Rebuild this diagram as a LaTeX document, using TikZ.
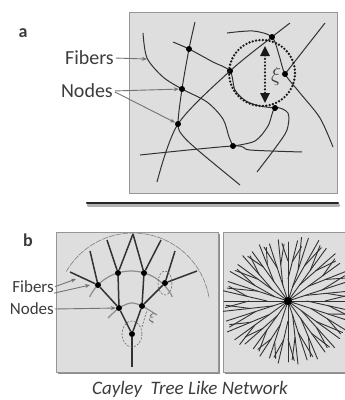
\documentclass[tikz,border=0pt]{standalone}
\usepackage{fontspec}
\setmainfont{Carlito}
\usetikzlibrary{arrows.meta, positioning, calc}
\definecolor{panelgray}{RGB}{222,222,222}
\definecolor{edgegray}{RGB}{150,150,150}
\definecolor{fibergray}{RGB}{50,50,50}
\definecolor{arrowgray}{RGB}{115,115,115}
\definecolor{textgray}{RGB}{60,60,60}

\begin{document}
\begin{tikzpicture}[
    x=1pt, y=-1pt,
    panel/.style={fill=panelgray, draw=edgegray, line width=0.8pt},
    fiber/.style={draw=fibergray, line width=1pt},
    branch/.style={draw=fibergray, line width=1.5pt},
    dendrite/.style={draw=fibergray, line width=0.9pt, line cap=round},
    dot/.style={circle, fill=black, inner sep=0pt, minimum size=6pt},
    lbl/.style={font=\fontsize{20}{22}\selectfont, text=textgray, inner sep=0pt},
    small/.style={font=\fontsize{17}{19}\selectfont, text=textgray, inner sep=0pt},
    pointer/.style={-{Stealth[length=5pt, width=4pt]}, draw=arrowgray, line width=0.9pt},
    ring/.style={draw=black!90, line width=2.6pt, dash pattern=on 0pt off 3.4pt, line cap=round},
    xiarrow/.style={{Triangle[length=10pt, width=9pt]}-{Triangle[length=10pt, width=9pt]},
                    draw=black!90, line width=2.4pt, dash pattern=on 0pt off 3.4pt, line cap=round},
    dashring/.style={draw=black!60, line width=0.6pt, dash pattern=on 2pt off 1.5pt},
    arcline/.style={draw=black!45, line width=1.2pt}
]
\useasboundingbox (0,0) rectangle (345,400);

% --- Panel a ---
\node[font=\fontsize{18}{20}\selectfont\bfseries, text=textgray] (tagA) at (23,33) {a};
\draw[panel] (129,12) rectangle (337,193);

% junctions
\coordinate (p1) at (189,49);
\coordinate (p2) at (230,71);
\coordinate (p3) at (182,89);
\coordinate (p4) at (178,124);
\coordinate (p5) at (272,37);
\coordinate (p6) at (285,74);
\coordinate (p7) at (275,108);
\coordinate (p8) at (233,146);

% fibers
\draw[fiber] plot[smooth] coordinates {(157,182) (p4) (p2) (p5) (290,23)};
\draw[fiber] plot[smooth] coordinates {(195,22) (p1) (p3) (p4) (183,136) (200,152) (240,185)};
\draw[fiber] plot[smooth] coordinates {(173,42) (p1) (213,62) (p2) (235,90) (246,101) (260,106) (p7)};
\draw[fiber] plot[smooth] coordinates {(143,33) (147,58) (163,77) (p3) (207,102) (223,119) (229,137) (p8)};
\draw[fiber] plot[smooth] coordinates {(140,155) (p8) (250,150) (302,152)};
\draw[fiber] plot[smooth] coordinates {(p8) (255,141) (268,126) (p7) (288,113) (287,130) (276,147) (257,172)};
\draw[fiber] (325,23) -- (p6);
\draw[fiber] plot[smooth] coordinates {(227,33) (253,31) (p5) (279,55) (p6) (300,93) (320,118) (333,147)};

\foreach \n in {1,...,8}
  \node[dot] (n\n) at (p\n) {};

% correlation zone
\node[ring, circle, minimum size=66pt, inner sep=0pt] (zone) at (262,73) {};
\coordinate (xitop) at (265,46);
\coordinate (xibot) at (265,103);
\draw[xiarrow] (xitop) -- (xibot);
\node[font=\fontsize{20}{22}\selectfont, text=textgray] (xiA) at (276,76) {$\xi$};

% labels
\node[lbl, anchor=east] (fibA) at (114,58) {Fibers};
\node[lbl, anchor=east] (nodA) at (113,91) {Nodes};
\coordinate (fa) at (147,59);
\draw[pointer, shorten <=2pt] (fibA.east) -- (fa);
\draw[pointer, shorten <=2pt] (nodA.east) -- (n3);
\draw[pointer, shorten <=2pt] (nodA.east) -- (n4);

% separator
\draw[line width=3pt, black!30, line cap=round] (88,205) -- (339,205);
\draw[line width=2.2pt, black!85, line cap=round] (87,203) -- (338,203);

% --- Panel b ---
\node[font=\fontsize{18}{20}\selectfont\bfseries, text=textgray] (tagB) at (28,240) {b};
\fill[black!45] (58,234) rectangle (220,374);
\draw[panel] (56,232) rectangle (218,372);
\fill[black!45] (225,234) rectangle (350,374);
\draw[panel] (223,232) rectangle (350,372);

% shells
\draw[draw=black!50, line width=0.6pt, dash pattern=on 6pt off 1pt]
  plot[domain=-150:-9, samples=50] ({133+77*cos(\x)},{310+77*sin(\x)});
\draw[arcline] plot[domain=-154:-26, samples=40] ({131+46*cos(\x)},{317+46*sin(\x)});
\draw[arcline] plot[smooth] coordinates {(108,318) (119,308) (131,303) (142,306) (157,315)};

% tree
\node[dot] (rt) at (132,334) {};
\node[dot] (l1a) at (119,308) {};
\node[dot] (l1b) at (142,306) {};
\node[dot] (l2a) at (98,285) {};
\node[dot] (l2b) at (118,273) {};
\node[dot] (l2c) at (144,273) {};
\node[dot] (l2d) at (165,283) {};
\coordinate (r0) at (132,367);
\coordinate (e1) at (70,272);
\coordinate (e2) at (90,251);
\coordinate (e3) at (107,240);
\coordinate (e4) at (133,234);
\coordinate (e5) at (161,240);
\coordinate (e6) at (175,251);
\coordinate (e7) at (197,271);

\draw[branch] (r0) -- (rt);
\draw[branch] (rt) -- (l1a);
\draw[branch] (rt) -- (l1b);
\draw[branch] (l1a) -- (l2a);
\draw[branch] (l1a) -- (l2b);
\draw[branch] (l1b) -- (l2c);
\draw[branch] (l1b) -- (l2d);
\draw[branch] (l2a) -- (e1);
\draw[branch] (l2a) -- (e2);
\draw[branch] (l2b) -- (e3);
\draw[branch] (l2b) -- (e4);
\draw[branch] (l2c) -- (e4);
\draw[branch] (l2c) -- (e5);
\draw[branch] (l2d) -- (e6);
\draw[branch] (l2d) -- (e7);

\draw[dashring] (l2d) ellipse [x radius=7, y radius=12];
\draw[dashring] (rt) ellipse [x radius=10, y radius=13];
\coordinate (xs) at (142,327);
\coordinate (xe) at (147,310);
\draw[dashring] (xs) -- (xe);
\node[font=\fontsize{12}{14}\selectfont, text=textgray] (xiB) at (152,318) {$\xi$};

% labels
\node[small, anchor=east] (fibB) at (54,287) {Fibers};
\node[small, anchor=east] (nodB) at (54,309) {Nodes};
\coordinate (fb1) at (76,279);
\coordinate (fb2) at (90,285);
\draw[pointer, shorten <=1pt] (fibB.east) -- (fb1);
\draw[pointer] (fibB.south east) -- (fb2);
\draw[pointer, shorten <=1pt] (nodB.east) -- (l1a);

% radial network
\coordinate (hub) at (288,301);
\begin{scope}
  \clip (223,232) rectangle (345,372);
  \foreach \a [count=\i] in {0,18,...,342} {
    \pgfmathsetmacro{\rr}{59+mod(\i*7,8)}
    \pgfmathsetmacro{\rf}{14+mod(\i*5,12)}
    \draw[dendrite] (hub) -- ($(hub)+(\a:\rr)$);
    \coordinate (fa\i) at ($(hub)+(\a:\rf)$);
    \coordinate (fb\i) at ($(hub)+({\a+9}:{\rr+2})$);
    \draw[dendrite] (fa\i) -- (fb\i);
    \draw[dendrite] ($(fa\i)!0.45!(fb\i)$) -- ($(hub)+({\a+14}:{\rr-3})$);
    \draw[dendrite] ($(hub)+(\a:{\rf+18})$) -- ($(hub)+({\a-6}:{\rr-1})$);
  }
\end{scope}
\node[dot, minimum size=8pt] (hubdot) at (hub) {};

% caption
\node[font=\fontsize{19}{21}\selectfont\itshape, text=textgray] (cap) at (190,389) {Cayley\ \ Tree Like Network};

\end{tikzpicture}
\end{document}
